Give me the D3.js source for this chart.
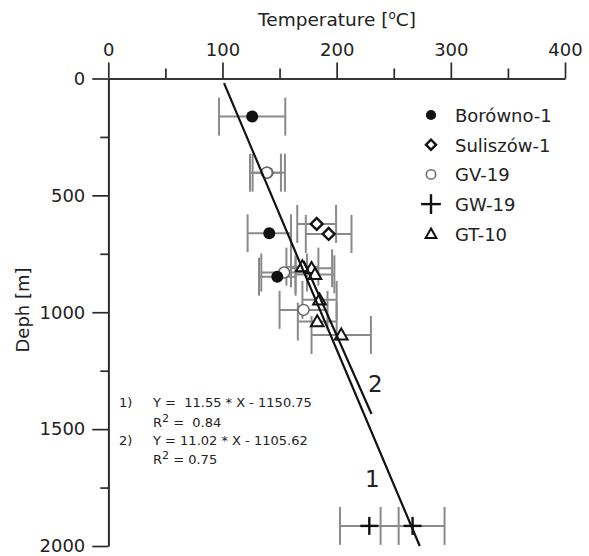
<!DOCTYPE html>
<html>
<head>
<meta charset="utf-8">
<script src="https://cdn.jsdelivr.net/npm/d3@7"></script>
<style>
  body { margin: 0; background: #fff; }
  svg text { font-family: 'DejaVu Sans', sans-serif; fill: #222; }
</style>
</head>
<body>
<svg id="chart" width="589" height="556"></svg>
<script>
// temperature vs depth
const xTicks = [0, 100, 200, 300, 400]
const xMinor = [50, 150, 250, 350]
const yTicks = [0, 500, 1000, 1500, 2000]
const yMinor = [250, 750, 1250, 1750]

// t = temperature [C], d = depth [m], e = +/- error [C]
const borowno = [
  { t: 126, d: 163, e: 29 },
  { t: 141, d: 662, e: 19 },
  { t: 148, d: 848, e: 16 }
]
const suliszow = [
  { t: 182.5, d: 622, e: 17 },
  { t: 193, d: 665, e: 20 }
]
const gv19 = [
  { t: 139.4, d: 403, e: 15.3 },
  { t: 138.8, d: 403, e: 12.4 },
  { t: 154, d: 830, e: 20 },
  { t: 171, d: 990, e: 21 }
]
const gw19 = [
  { t: 228.6, d: 1914, e: 25.7 },
  { t: 266.5, d: 1914, e: 28 }
]
const gt10 = [
  { t: 170, d: 805, e: 14 },
  { t: 178, d: 812, e: 18 },
  { t: 181, d: 838, e: 17 },
  { t: 185, d: 947, e: 15 },
  { t: 183, d: 1040, e: 17 },
  { t: 204, d: 1097, e: 26 }
]

// Y = a * X + b, drawn between depths d0..d1
const fits = [
  { id: '1', a: 11.55, b: -1150.75, d0: 20, d1: 2000 },
  { id: '2', a: 11.02, b: -1105.62, d0: 780, d1: 1435 }
]

const legendNames = ['Borówno-1', 'Suliszów-1', 'GV-19', 'GW-19', 'GT-10']

const svg = d3.select('#chart')
const x = d3.scaleLinear().domain([0, 400]).range([108.3, 565])
const y = d3.scaleLinear().domain([0, 2000]).range([78.5, 546])

const translate = (a, b) => 'translate(' + a + ',' + b + ')'

// axes
const styleAxis = g => {
  g.selectAll('path, line').attr('stroke', '#2a2a2a').attr('stroke-width', 1.7)
  g.selectAll('text').attr('font-size', 18).attr('fill', '#222')
    .attr('font-family', "'DejaVu Sans', sans-serif")
}

svg.append('g').attr('transform', translate(0, y(0)))
  .call(d3.axisTop(x).tickValues(xTicks).tickSize(16).tickSizeOuter(0).tickPadding(7).tickFormat(d3.format('d')))
  .call(styleAxis)
svg.append('g').attr('transform', translate(0, y(0)))
  .call(d3.axisTop(x).tickValues(xMinor).tickSize(10).tickSizeOuter(0).tickFormat(''))
  .call(styleAxis)
svg.append('g').attr('transform', translate(x(0), 0))
  .call(d3.axisLeft(y).tickValues(yTicks).tickSize(16).tickSizeOuter(0).tickPadding(7).tickFormat(d3.format('d')))
  .call(styleAxis)
svg.append('g').attr('transform', translate(x(0), 0))
  .call(d3.axisLeft(y).tickValues(yMinor).tickSize(8).tickSizeOuter(0).tickFormat(''))
  .call(styleAxis)

// axis titles
const xt = svg.append('text').attr('x', 337).attr('y', 26)
  .attr('text-anchor', 'middle').attr('font-size', 18.5)
xt.append('tspan').text('Temperature [')
xt.append('tspan').attr('font-size', 12).attr('dy', -7).text('o')
xt.append('tspan').attr('dy', 7).text('C]')

svg.append('text').attr('transform', translate(29, 310) + ' rotate(-90)')
  .attr('text-anchor', 'middle').attr('font-size', 18).text('Deph [m]')

// error bars
const allPts = [].concat(borowno, suliszow, gv19, gw19, gt10)
const bars = svg.append('g').attr('stroke', '#8a8a8a').attr('stroke-width', 2).attr('fill', 'none')
allPts.forEach(p => {
  const cy = y(p.d)
  const x0 = x(p.t - p.e)
  const x1 = x(p.t + p.e)
  bars.append('line').attr('x1', x0).attr('x2', x1).attr('y1', cy).attr('y2', cy)
  bars.append('line').attr('x1', x0).attr('x2', x0).attr('y1', cy - 19).attr('y2', cy + 19)
  bars.append('line').attr('x1', x1).attr('x2', x1).attr('y1', cy - 19).attr('y2', cy + 19)
})

// marker drawers, one per series
const markers = [
  (g, s) => g.append('circle').attr('r', 6 * s).attr('fill', '#111'),
  (g, s) => g.append('path').attr('d', d3.symbol(d3.symbolSquare, 70 * s * s)())
    .attr('transform', 'rotate(45)').attr('fill', '#fff').attr('stroke', '#111').attr('stroke-width', 2.4),
  (g, s) => g.append('circle').attr('r', 5.5 * s).attr('fill', '#fff').attr('stroke', '#666').attr('stroke-width', 1.5),
  (g, s) => {
    g.append('line').attr('x1', -9 * s).attr('x2', 9 * s).attr('stroke', '#111').attr('stroke-width', 2.4)
    g.append('line').attr('y1', -9 * s).attr('y2', 9 * s).attr('stroke', '#111').attr('stroke-width', 2.4)
  },
  (g, s) => g.append('path').attr('d', d3.symbol(d3.symbolTriangle, 70 * s * s)())
    .attr('transform', 'translate(0,1)').attr('fill', '#fff').attr('stroke', '#111').attr('stroke-width', 2)
]

// draw order: open marks first, filled circles on top
const seriesList = [borowno, suliszow, gv19, gw19, gt10]
const drawOrder = [2, 4, 1, 3, 0]
drawOrder.forEach(i => {
  seriesList[i].forEach(p => {
    const g = svg.append('g').attr('transform', translate(x(p.t), y(p.d)))
    markers[i](g, 1)
  })
})

// regression lines
fits.forEach(f => {
  const tAt = d => (d - f.b) / f.a
  svg.append('line')
    .attr('x1', x(tAt(f.d0))).attr('y1', y(f.d0))
    .attr('x2', x(tAt(f.d1))).attr('y2', y(f.d1))
    .attr('stroke', '#111').attr('stroke-width', 2.2)
})
svg.append('text').attr('x', 368).attr('y', 392).attr('font-size', 23).text('2')
svg.append('text').attr('x', 365).attr('y', 487).attr('font-size', 23).text('1')

// equations
const fs = 13
const eq = svg.append('g')
eq.append('text').attr('x', 119).attr('y', 407).attr('font-size', fs).text('1)')
eq.append('text').attr('x', 153).attr('y', 407).attr('font-size', fs).attr('xml:space', 'preserve')
  .text('Y =  11.55 * X - 1150.75')
const r1 = eq.append('text').attr('x', 153).attr('y', 427).attr('font-size', fs)
r1.append('tspan').text('R')
r1.append('tspan').attr('dy', -5).attr('font-size', 11).text('2')
r1.append('tspan').attr('dy', 5).attr('xml:space', 'preserve').text(' =  0.84')
eq.append('text').attr('x', 119).attr('y', 445).attr('font-size', fs).text('2)')
eq.append('text').attr('x', 153).attr('y', 445).attr('font-size', fs)
  .text('Y = 11.02 * X - 1105.62')
const r2 = eq.append('text').attr('x', 153).attr('y', 464).attr('font-size', fs)
r2.append('tspan').text('R')
r2.append('tspan').attr('dy', -5).attr('font-size', 11).text('2')
r2.append('tspan').attr('dy', 5).text(' = 0.75')

// legend
legendNames.forEach((name, i) => {
  const cy = 115 + i * 29.7
  const g = svg.append('g').attr('transform', translate(431, cy))
  markers[i](g, i === 3 ? 1.1 : 0.85)
  svg.append('text').attr('x', 455).attr('y', cy + 7).attr('font-size', 18).text(name)
})
</script>
</body>
</html>
